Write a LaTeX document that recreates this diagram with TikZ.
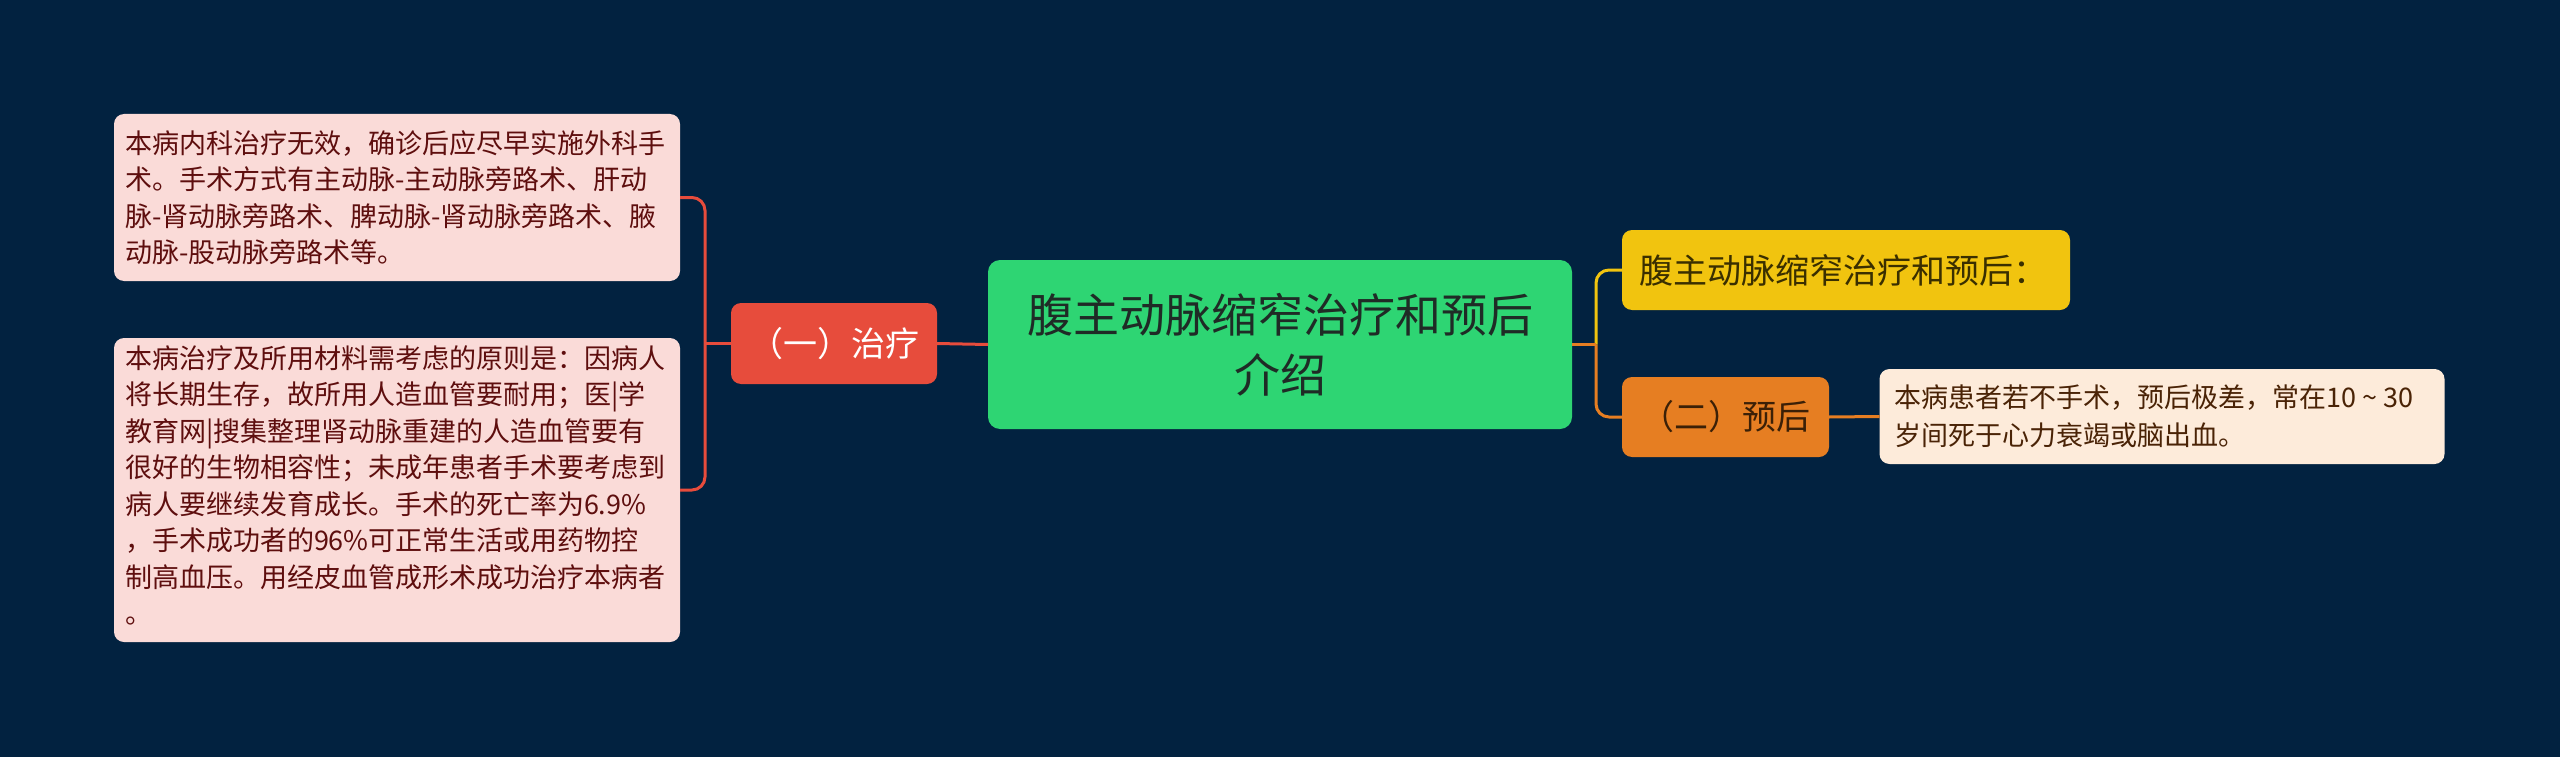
\documentclass[tikz,border=0pt]{standalone}
\usepackage{fontspec}
\setmainfont{Noto Sans CJK SC}
\definecolor{bg}{HTML}{022240}
\definecolor{cgreen}{HTML}{2ED573}
\definecolor{cred}{HTML}{E74C3C}
\definecolor{cyellow}{HTML}{F1C40F}
\definecolor{corange}{HTML}{E67E22}
\definecolor{pinkfill}{HTML}{FADBD8}
\definecolor{pinktext}{HTML}{5E0E0E}
\definecolor{peachfill}{HTML}{FDEBDA}
\definecolor{peachtext}{HTML}{4A2306}
\definecolor{darktext}{HTML}{1F2B26}
\definecolor{ytext}{HTML}{3A2F00}
\definecolor{otext}{HTML}{3B2007}
\begin{document}
\begin{tikzpicture}[x=1pt,y=-1pt,
  base/.style={rounded corners=10pt, inner ysep=0pt, outer sep=0pt},
  leafL/.style={base, fill=pinkfill, text=pinktext, inner xsep=11pt, text width=544pt, align=left,
    font=\fontsize{27pt}{36.5pt}\selectfont},
  leafR/.style={base, fill=peachfill, text=peachtext, inner xsep=15pt, text width=535pt, align=left,
    font=\fontsize{27pt}{37.5pt}\selectfont},
  rootnode/.style={base, rounded corners=12pt, fill=cgreen, text=darktext, inner xsep=12pt, text width=560pt, align=center,
    minimum height=169pt, font=\fontsize{46pt}{60pt}\selectfont},
  branch/.style={base, minimum height=80pt, font=\fontsize{34pt}{40pt}\selectfont},
  link/.style={line width=3pt, rounded corners=13pt}
]
\fill[bg] (0,0) rectangle (2560,757);
\useasboundingbox (0,0) rectangle (2560,757);

% nodes
\node[rootnode] (c) at (1280,344.5) {腹主动脉缩窄治疗和预后\\介绍};

\node[branch, fill=cred, text=white, minimum width=206pt, minimum height=81pt] (zl) at (834,343.5) {（一）治疗};

\node[branch, fill=cyellow, text=ytext, inner xsep=17pt, text width=414pt, align=left] (y1) at (1846,270) {腹主动脉缩窄治疗和预后：};

\node[branch, fill=corange, text=otext, minimum width=207pt] (o1) at (1725.5,417) {（二）预后};

\node[leafL, minimum height=167pt] (b1) at (397,197.5) {本病内科治疗无效，确诊后应尽早实施外科手\\术。手术方式有主动脉-主动脉旁路术、肝动\\脉-肾动脉旁路术、脾动脉-肾动脉旁路术、腋\\动脉-股动脉旁路术等。};

\node[leafL, minimum height=304pt] (b2) at (397,490) {本病治疗及所用材料需考虑的原则是：因病人\\将长期生存，故所用人造血管要耐用；医|学\\教育网|搜集整理肾动脉重建的人造血管要有\\很好的生物相容性；未成年患者手术要考虑到\\病人要继续发育成长。手术的死亡率为6.9\%\\，手术成功者的96\%可正常生活或用药物控\\制高血压。用经皮血管成形术成功治疗本病者\\。\strut};

\node[leafR, minimum height=95pt] (t1) at (2162,416.5) {本病患者若不手术，预后极差，常在10\hspace{6pt}\textasciitilde\hspace{6pt}30\\岁间死于心力衰竭或脑出血。};

% connectors
\coordinate (lj) at (705,343.5);
\coordinate (rj) at (1596,344.5);
\draw[link, cred] (b1.east) -| (lj) |- (b2.east);
\draw[link, cred] (zl.west) -- (lj);
\draw[link, cred] (c.west) -- (zl.east);
\draw[link, cyellow] (rj) |- (y1.west);
\draw[link, corange] (rj) |- (o1.west);
\draw[link, corange] (c.east) -- (rj);
\draw[link, corange] (o1.east) -- (t1.west);
\end{tikzpicture}
\end{document}
